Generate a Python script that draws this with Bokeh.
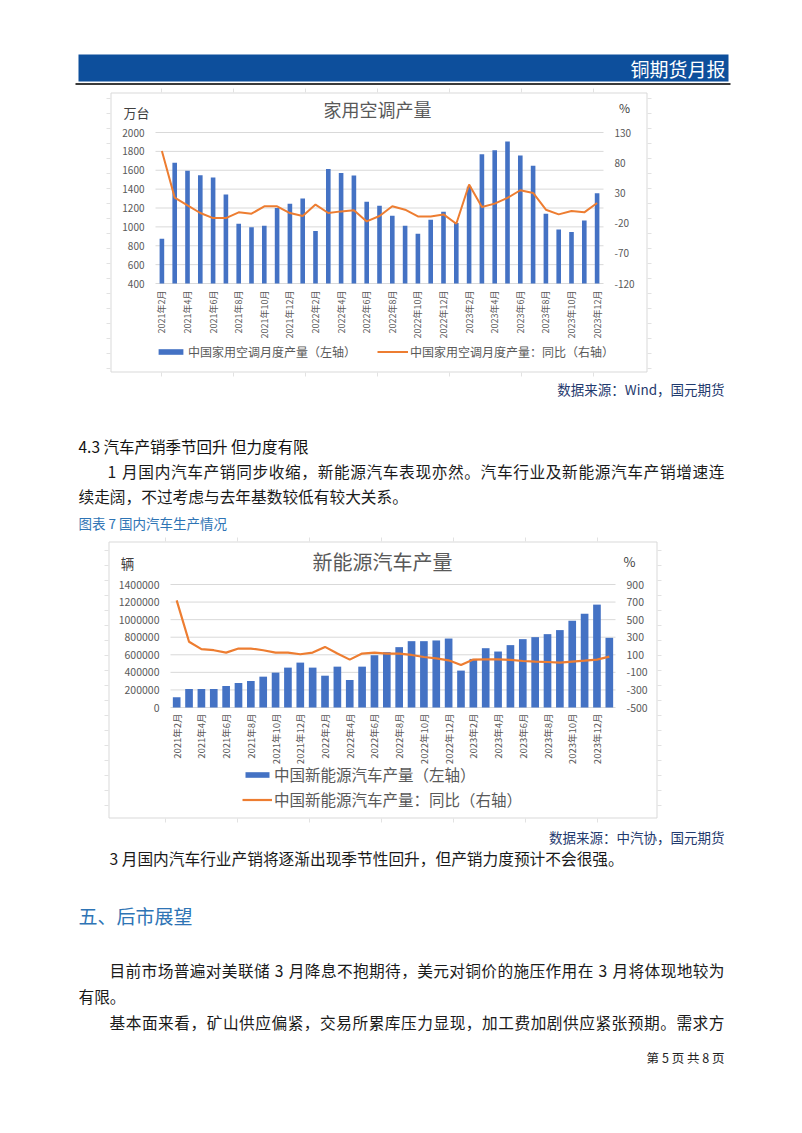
import math
from bokeh.plotting import figure
from bokeh.models import Range1d, Legend, LegendItem, ColumnDataSource
from bokeh.embed import file_html
from bokeh.resources import INLINE
from bokeh.core.properties import value

FONT = "Noto Sans CJK SC"
PW, PH = 802, 1133

# ---------------- chart 1: household air conditioners ----------------
ac_months = ["2021年2月", "2021年3月", "2021年4月", "2021年5月", "2021年6月", "2021年7月",
             "2021年8月", "2021年9月", "2021年10月", "2021年11月", "2021年12月",
             "2022年1月", "2022年2月", "2022年3月", "2022年4月", "2022年5月", "2022年6月",
             "2022年7月", "2022年8月", "2022年9月", "2022年10月", "2022年11月", "2022年12月",
             "2023年1月", "2023年2月", "2023年3月", "2023年4月", "2023年5月", "2023年6月",
             "2023年7月", "2023年8月", "2023年9月", "2023年10月", "2023年11月", "2023年12月"]
ac_output = [873, 1680, 1595, 1548, 1524, 1342, 1033, 997, 1011, 1200, 1246,
             1300, 955, 1612, 1570, 1545, 1267, 1225, 1118, 1011, 926, 1076, 1161,
             1040, 1424, 1769, 1812, 1904, 1755, 1648, 1139, 972, 947, 1068, 1356]
ac_yoy = [99.4, 22.2, 9.4, -3.3, -11.7, -11.7, -2.2, -4.4, 7.8, 7.8, -3.3,
          -8.3, 10.6, -3.3, -0.6, 1.1, -17.2, -8.3, 7.8, 2.2, -8.9, -8.9, -5.6,
          -21.1, 43.9, 6.7, 12.2, 21.7, 34.4, 30.0, 2.2, -5.6, 0.0, -2.2, 13.3]
ac_left_ticks = [400, 600, 800, 1000, 1200, 1400, 1600, 1800, 2000]
ac_right_ticks = [-120, -70, -20, 30, 80, 130]

# ---------------- chart 2: new energy vehicles ----------------
nev_months = ["2021年2月", "2021年3月", "2021年4月", "2021年5月", "2021年6月", "2021年7月",
              "2021年8月", "2021年9月", "2021年10月", "2021年11月", "2021年12月",
              "2022年1月", "2022年2月", "2022年3月", "2022年4月", "2022年5月", "2022年6月",
              "2022年7月", "2022年8月", "2022年9月", "2022年10月", "2022年11月", "2022年12月",
              "2023年1月", "2023年2月", "2023年3月", "2023年4月", "2023年5月", "2023年6月",
              "2023年7月", "2023年8月", "2023年9月", "2023年10月", "2023年11月", "2023年12月",
              "2024年1月"]
nev_output = [118000, 210000, 210000, 210000, 244000, 278000, 301000, 351000, 397000,
              454000, 511000, 454000, 362000, 465000, 313000, 465000, 595000, 630000,
              687000, 755000, 755000, 763000, 785000, 420000, 553000, 675000, 637000,
              710000, 778000, 801000, 835000, 881000, 988000, 1068000, 1171000, 793000]
nev_yoy = [720, 248, 164, 152, 125, 171, 171, 152, 125, 125, 106, 125, 190, 114, 45,
           114, 125, 114, 114, 98, 75, 60, 37, -17, 45, 48, 48, 41, 29, 22, 18, 10,
           22, 33, 45, 79]
nev_left_ticks = [0, 200000, 400000, 600000, 800000, 1000000, 1200000, 1400000]
nev_right_ticks = [-500, -300, -100, 100, 300, 500, 700, 900]

BAR_BLUE = "#4472C4"
LINE_ORANGE = "#ED7D31"
GRID = "#D9D9D9"
FAINT = "#E2E2E2"
TICK_TXT = "#595959"
HEAD_BLUE = "#0D4F9C"
NAVY = "#1F3A6E"
CAP_BLUE = "#2E74B5"
BODY = "#1a1a1a"

p = figure(width=PW, height=PH, x_range=Range1d(0, PW), y_range=Range1d(PH, 0),
           x_axis_type=None, y_axis_type=None, output_backend="svg", toolbar_location=None,
           min_border_left=0, min_border_right=0, min_border_top=0, min_border_bottom=0,
           background_fill_color="white", border_fill_color="white")
p.outline_line_color = None


def adv(ch):
    if ch == " ":
        return 0.28
    if ord(ch) < 128:
        return 0.57
    return 1.0


def put_text(s, x, y, size, color=BODY, align="left", to=None, style="normal"):
    if to is None:
        p.text(x=[x], y=[y], text=[s], text_font=value(FONT), text_font_size=f"{size}px",
               text_color=color, text_align=align, text_baseline="middle",
               text_font_style=style)
        return
    widths = [adv(c) * size for c in s]
    gap = (to - x - sum(widths)) / (len(s) - 1)
    xs, cur = [], x
    for w in widths:
        xs.append(cur)
        cur += w + gap
    p.text(x=xs, y=[y] * len(s), text=list(s), text_font=value(FONT),
           text_font_size=f"{size}px", text_color=color, text_align="left",
           text_baseline="middle", text_font_style=style)


def frame_marks(box, xs_marks, y_start):
    bl, br, bt, bb = box
    p.quad(left=[bl + 0.5], right=[br - 0.5], top=[bt + 0.5], bottom=[bb - 0.5],
           fill_color=None, line_color=GRID, line_width=1)
    ys = [y for y in range(y_start, int(bb), 15)]
    p.segment(x0=[bl - 4] * len(ys), x1=[bl] * len(ys), y0=ys, y1=ys, line_color=FAINT, line_width=1)
    p.segment(x0=[br] * len(ys), x1=[br + 4] * len(ys), y0=ys, y1=ys, line_color=FAINT, line_width=1)
    p.segment(x0=xs_marks, x1=xs_marks, y0=[bt - 4] * len(xs_marks), y1=[bt] * len(xs_marks),
              line_color=FAINT, line_width=1)
    p.segment(x0=xs_marks, x1=xs_marks, y0=[bb] * len(xs_marks), y1=[bb + 4] * len(xs_marks),
              line_color=FAINT, line_width=1)


def add_chart(key, area, months, bars, yoy, lt, rt, cfg):
    L, R, T, B = area
    n = len(months)
    pos = list(range(1, n + 1))
    # map the chart's own data ranges onto the page so that the plot area lands on `area`
    sx = n / (R - L)
    kl = (lt[-1] - lt[0]) / (B - T)
    kr = (rt[-1] - rt[0]) / (B - T)
    xr, yl, yr = key + "x", key + "l", key + "r"
    p.extra_x_ranges[xr] = Range1d(0.5 - L * sx, 0.5 + (PW - L) * sx)
    p.extra_y_ranges[yl] = Range1d(lt[0] - (PH - B) * kl, lt[-1] + T * kl)
    p.extra_y_ranges[yr] = Range1d(rt[0] - (PH - B) * kr, rt[-1] + T * kr)

    # gridlines at the left-axis ticks
    p.segment(x0=[0.5] * len(lt), x1=[n + 0.5] * len(lt), y0=lt, y1=lt,
              x_range_name=xr, y_range_name=yl, line_color=GRID, line_width=1)
    # left / right tick labels
    p.text(x=[L - 11] * len(lt), y=lt, text=[str(t) for t in lt], y_range_name=yl,
           text_font=value(FONT), text_font_size=cfg["tick_size"], text_color=TICK_TXT,
           text_align="right", text_baseline="middle")
    p.text(x=[R + 11] * len(rt), y=rt, text=[str(t) for t in rt], y_range_name=yr,
           text_font=value(FONT), text_font_size=cfg["tick_size"], text_color=TICK_TXT,
           text_align="left", text_baseline="middle")
    # category labels (every second month), vertical
    p.text(x=pos[::2], y=[B + cfg["xlab_standoff"]] * len(pos[::2]), text=months[::2],
           x_range_name=xr, angle=math.pi / 2, text_font=value(FONT),
           text_font_size=cfg["xlab_size"], text_color=TICK_TXT,
           text_align="right", text_baseline="middle")

    src = ColumnDataSource(dict(x=pos, top=bars, yoy=yoy))
    r_bar = p.vbar(x="x", top="top", bottom=lt[0], width=cfg["bar_w"], source=src,
                   x_range_name=xr, y_range_name=yl, fill_color=BAR_BLUE, line_color=None)
    r_line = p.line(x="x", y="yoy", source=src, x_range_name=xr, y_range_name=yr,
                    line_color=LINE_ORANGE, line_width=cfg["line_w"])

    for (txt, x, y, size, color) in cfg["labels"]:
        p.text(x=[x], y=[y], text=[txt], text_font=value(FONT), text_font_size=size,
               text_color=color, text_align="center", text_baseline="middle")

    lx, lbottom = cfg["leg_pos"]
    legend = Legend(items=[LegendItem(label=cfg["leg"][0], renderers=[r_bar]),
                           LegendItem(label=cfg["leg"][1], renderers=[r_line])],
                    orientation=cfg["leg_orient"], location=(lx, PH - lbottom),
                    padding=0, margin=0, spacing=cfg["leg_spacing"],
                    glyph_width=cfg["glyph_w"], glyph_height=7,
                    label_height=cfg["label_h"], label_standoff=2,
                    label_text_font=FONT, label_text_font_size=cfg["leg_size"],
                    label_text_color=TICK_TXT, background_fill_alpha=0,
                    border_line_color=None)
    p.add_layout(legend)


# ---------- header ----------
p.quad(left=[78], right=[728], top=[54], bottom=[81], fill_color=HEAD_BLUE, line_color=None)
p.segment(x0=[75], y0=[83.5], x1=[730], y1=[83.5], line_color="#3a3a3a", line_width=2)
put_text("铜期货月报", 725, 68, 19, color="white", align="right")

# ---------- chart 1 ----------
frame_marks((110, 647, 92, 372), [161, 233, 305, 377, 449, 521, 593], 98)
add_chart("c1", (155, 603, 132, 283), ac_months, ac_output, ac_yoy,
          ac_left_ticks, ac_right_ticks,
          dict(tick_size="10px", xlab_size="9px", xlab_standoff=7, bar_w=0.36, line_w=2,
               labels=[("家用空调产量", 377, 108, "18px", TICK_TXT),
                       ("万台", 136, 112, "13px", "#404040"),
                       ("%", 624, 107, "12px", "#404040")],
               leg=["中国家用空调月度产量（左轴）", "中国家用空调月度产量：同比（右轴）"],
               leg_orient="horizontal", leg_pos=(155, 360), leg_spacing=21, glyph_w=31,
               label_h=14, leg_size="12px"))
put_text("数据来源：Wind，国元期货", 724, 388, 13.5, color=NAVY, align="right")

# ---------- text ----------
put_text("4.3 汽车产销季节回升 但力度有限", 78, 445, 15.5, color="#111111")
put_text("1 月国内汽车产销同步收缩，新能源汽车表现亦然。汽车行业及新能源汽车产销增速连",
         107, 471, 15.7, to=724)
put_text("续走阔，不过考虑与去年基数较低有较大关系。", 78, 496, 15.7)
put_text("图表 7 国内汽车生产情况", 78, 522, 13.5, color=CAP_BLUE)

# ---------- chart 2 ----------
frame_marks((108, 657, 541, 818), [165, 237, 309, 381, 453, 525, 597], 550)
add_chart("c2", (170, 615, 584, 707), nev_months, nev_output, nev_yoy,
          nev_left_ticks, nev_right_ticks,
          dict(tick_size="10.5px", xlab_size="9.5px", xlab_standoff=6, bar_w=0.62, line_w=2.2,
               labels=[("新能源汽车产量", 382, 561, "20px", TICK_TXT),
                       ("辆", 127, 562, "13.5px", "#404040"),
                       ("%", 629, 561, "13px", "#404040")],
               leg=["中国新能源汽车产量（左轴）", "中国新能源汽车产量：同比（右轴）"],
               leg_orient="vertical", leg_pos=(242, 810), leg_spacing=3, glyph_w=30,
               label_h=16, leg_size="15.5px"))
put_text("数据来源：中汽协，国元期货", 724, 836, 13.5, color=NAVY, align="right")

# ---------- text ----------
put_text("3 月国内汽车行业产销将逐渐出现季节性回升，但产销力度预计不会很强。", 109, 858, 15.7)
put_text("五、后市展望", 78, 915, 19, color=CAP_BLUE)
put_text("目前市场普遍对美联储 3 月降息不抱期待，美元对铜价的施压作用在 3 月将体现地较为",
         109, 970, 15.7, to=724)
put_text("有限。", 78, 996, 15.7)
put_text("基本面来看，矿山供应偏紧，交易所累库压力显现，加工费加剧供应紧张预期。需求方",
         109, 1022, 15.7, to=724)
put_text("第 5 页 共 8 页", 724, 1057, 12.5, color="#222222", align="right")

open("out.html", "w").write(file_html(p, INLINE))
